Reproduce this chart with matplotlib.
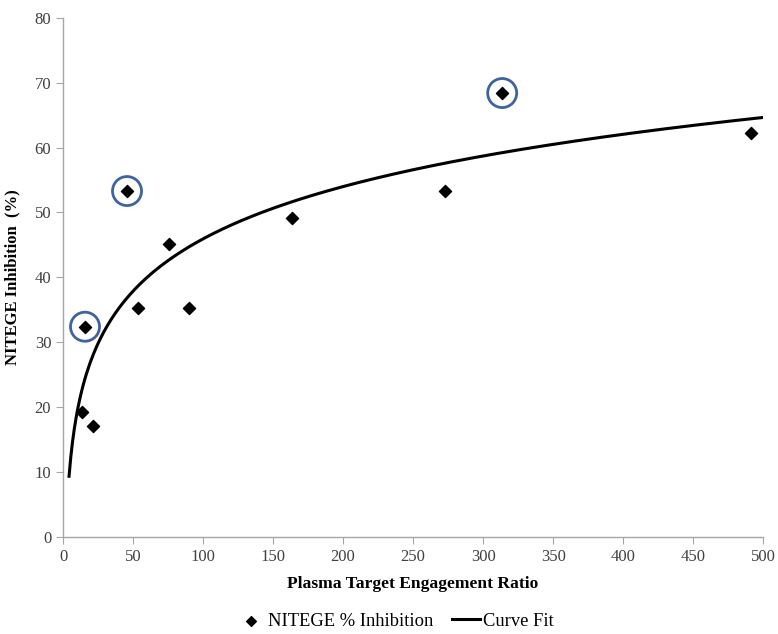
import numpy as np
import matplotlib.pyplot as plt
from matplotlib.patches import Ellipse

# pontos
ratio = [13.6, 21.4, 15.7, 45.7, 53.6, 75.7, 90.0, 163.6, 272.9, 313.6, 491.4]
inhibition = [19.3, 17.1, 32.4, 53.3, 35.3, 45.1, 35.3, 49.2, 53.3, 68.4, 62.3]
circled = [2, 3, 9]  # pontos destacados com circulo azul
curve_range = [4.3, 500]

plt.rcParams['font.family'] = ['Liberation Serif', 'DejaVu Serif']

fig = plt.figure(figsize=(7.78, 6.34), dpi=100)
ax = fig.add_axes([0.081, 0.153, 0.9, 0.819])

# ajuste logaritmico (como a linha de tendencia do Excel)
a, b = np.polyfit(np.log(ratio), inhibition, 1)
xs = np.linspace(curve_range[0], curve_range[1], 400)
ax.plot(xs, a * np.log(xs) + b, color='black', lw=2.2, label='Curve Fit', zorder=2)

ax.scatter(ratio, inhibition, marker='D', s=38, color='black',
           label='NITEGE % Inhibition', zorder=3)

# circulos (em pixels, entao calcula raio em unidades de dados)
ppx = 700 / 500
ppy = 519 / 80
for i in circled:
    ax.add_patch(Ellipse((ratio[i], inhibition[i]), 2 * 14.5 / ppx, 2 * 14.5 / ppy,
                         fill=False, edgecolor='#3d63a0', lw=2, zorder=4))

ax.set_xlim(0, 500)
ax.set_ylim(0, 80)
ax.set_xticks(np.arange(0, 501, 50))
ax.set_yticks(np.arange(0, 81, 10))

for s in ['top', 'right']:
    ax.spines[s].set_visible(False)
for s in ['left', 'bottom']:
    ax.spines[s].set_color('#a6a6a6')
    ax.spines[s].set_linewidth(1)
ax.tick_params(colors='#a6a6a6', labelcolor='#404040', labelsize=12, length=5)

ax.set_xlabel('Plasma Target Engagement Ratio', fontsize=12.6, fontweight='bold', labelpad=8)
ax.set_ylabel('NITEGE Inhibition  (%)', fontsize=12, fontweight='bold', labelpad=10)

h, l = ax.get_legend_handles_labels()
leg = fig.legend(h[::-1], l[::-1], loc='center', ncol=2, frameon=False,
                 fontsize=13.3, bbox_to_anchor=(0.508, 0.02), handlelength=1.55,
                 handletextpad=0.15, columnspacing=1.0, markerscale=0.8,
                 borderpad=0.1)

fig.savefig('out.png', dpi=100)
